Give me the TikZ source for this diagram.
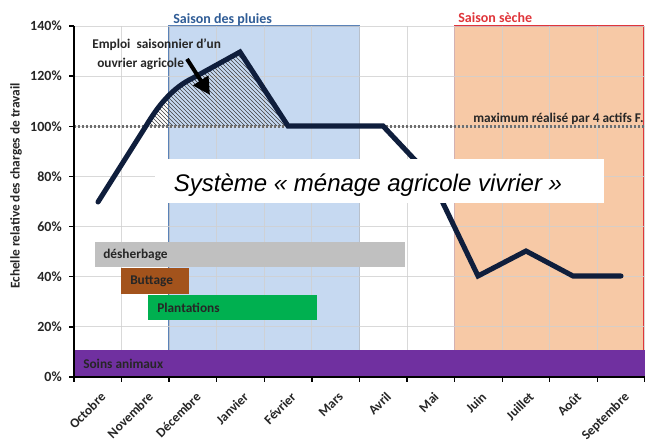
\documentclass[tikz,border=0pt]{standalone}
\usepackage{fontspec}
\setmainfont{Carlito}
\newfontfamily\arialfont{Liberation Sans}
\usetikzlibrary{patterns,arrows.meta}
\definecolor{navy}{HTML}{0F1E3C}
\definecolor{txt}{HTML}{262626}
\definecolor{rainfill}{HTML}{C6D9F1}
\definecolor{rainedge}{HTML}{5A82B8}
\definecolor{raintext}{HTML}{2F5C96}
\definecolor{dryfill}{HTML}{F7C9A6}
\definecolor{dryedge}{HTML}{E0353A}
\definecolor{gridc}{HTML}{D0D0D0}
\definecolor{weedc}{HTML}{C0C0C0}
\definecolor{buttc}{HTML}{A3531C}
\definecolor{plantc}{HTML}{00B050}
\definecolor{animc}{HTML}{7030A0}
\definecolor{dotc}{HTML}{6E6E6E}
\begin{document}
\begin{tikzpicture}[x=0.75pt,y=-0.75pt,
  lbl/.style={font=\bfseries\fontsize{10}{12}\selectfont, text=txt, inner sep=0pt},
  ticklbl/.style={font=\bfseries\fontsize{10.5}{12}\selectfont, text=txt, inner sep=0pt, anchor=east},
  monthlbl/.style={font=\bfseries\fontsize{10}{12}\selectfont, text=txt, inner sep=0pt, anchor=north east, rotate=45},
  gridline/.style={draw=gridc, line width=0.75pt},
  curve/.style={draw=navy, line width=3.8pt, line cap=round},
]
\useasboundingbox (0,0) rectangle (645,445);
\fill[white] (0,0) rectangle (645,445);
% seasons
\filldraw[fill=rainfill, draw=rainedge, line width=1.2pt] (169.2,26) rectangle (359.5,377);
\filldraw[fill=dryfill, draw=dryedge, line width=1.2pt] (454.6,26) rectangle (643.5,377);
\node[lbl, font=\bfseries\fontsize{10.5}{12}\selectfont, text=raintext, anchor=west] (rain) at (173,19.5) {Saison des pluies};
\node[lbl, font=\bfseries\fontsize{10.5}{12}\selectfont, text=dryedge, anchor=west] (dry) at (458,18) {Saison sèche};
% grid
\foreach \k in {1,...,12} {\draw[gridline, opacity=0.8] ({74+47.58*\k},26) -- ({74+47.58*\k},377);}
\foreach \p in {20,40,...,140} {\draw[gridline, opacity=0.8] (74,{377-2.507*\p}) -- (645,{377-2.507*\p});}
% activity bars
\fill[weedc] (94.5,242) rectangle (405,267);
\node[lbl, anchor=west] (weed) at (103,254.5) {désherbage};
\fill[buttc] (121,268) rectangle (189,294);
\node[lbl, anchor=west] (butt) at (130,281) {Buttage};
\fill[plantc] (148,295) rectangle (317,320);
\node[lbl, anchor=west] (plant) at (157,307.5) {Plantations};
\fill[animc] (74,350) rectangle (645,377);
\node[lbl, anchor=west] (anim) at (83,364) {Soins animaux};
% curve points
\coordinate (p0) at (98,202);
\coordinate (p1) at (146,126);
\coordinate (p2) at (193,78);
\coordinate (p3) at (240,52);
\coordinate (p4) at (288,126);
\coordinate (p5) at (335,126);
\coordinate (p6) at (383,126);
\coordinate (p7) at (430,176);
\coordinate (p8) at (478,276);
\coordinate (p9) at (526,251);
\coordinate (p10) at (573,276);
\coordinate (p11) at (621,276);
% hatched area
\fill[pattern=north west lines, pattern color=black!75] (p1) .. controls (158,106) and (172,88) .. (p2) -- (p3) -- (p4) -- cycle;
% dotted max line
\coordinate (d0) at (74,126.3);
\coordinate (d1) at (645,126.3);
\draw[dotc, line width=2.2pt, dash pattern=on 1.6pt off 1.4pt] (d0) -- (d1);
\node[lbl, font=\bfseries\fontsize{10}{12}\selectfont, anchor=west] (maxl) at (473,119) {maximum réalisé par 4 actifs F.};
% main curve
\draw[curve] (p0) -- (p1) .. controls (158,106) and (172,88) .. (p2) -- (p3) -- (p4) -- (p5) -- (p6) -- (p7) -- (p8) -- (p9) -- (p10) -- (p11);
% annotation
\node[lbl, anchor=west] (emp1) at (92,45) {Emploi\ \ saisonnier d'un};
\node[lbl, anchor=west] (emp2) at (97,63.5) {ouvrier agricole};
\coordinate (a0) at (187,59);
\coordinate (a1) at (210,95);
\draw[black, line width=3pt, -{Triangle[length=13pt,width=13pt]}] (a0) -- (a1);
% white title box
\fill[white] (155,159) rectangle (604,203);
\node[inner sep=0pt, font=\arialfont\itshape\fontsize{18}{20}\selectfont, text=black] (title) at (368,185) {Système « ménage agricole vivrier »};
% axes
\draw[black, line width=1.2pt] (74,26) -- (74,377) -- (645,377);
\foreach \p in {0,20,...,140} {\draw[black, line width=1pt] (69,{377-2.507*\p}) -- (74,{377-2.507*\p});
  \node[ticklbl] (y\p) at (62,{377-2.507*\p}) {\p\%};}
\foreach \k in {0,...,12} {\draw[black, line width=1pt] ({74+47.58*\k},377) -- ({74+47.58*\k},382);}
\foreach \m [count=\i from 0] in {Octobre,Novembre,Décembre,Janvier,Février,Mars,Avril,Mai,Juin,Juillet,Août,Septembre}
  {\node[monthlbl] (m\i) at ({74+47.58*(\i+0.5)+2},391) {\m};}
\node[lbl, font=\bfseries\fontsize{10}{12}\selectfont, rotate=90] (ytitle) at (16,186) {Echelle relative des charges de travail};
\end{tikzpicture}
\end{document}
